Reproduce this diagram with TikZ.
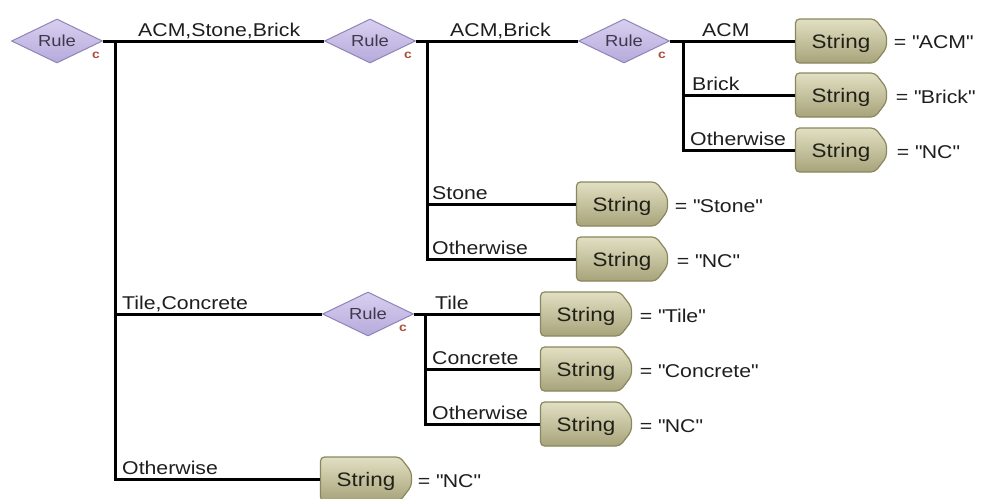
\documentclass[tikz,border=0pt]{standalone}
\usepackage{fontspec}
\setmainfont[FakeStretch=1.15]{Liberation Sans}
\usetikzlibrary{shapes.geometric}

\definecolor{ruletop}{HTML}{D8D0F0}
\definecolor{rulebot}{HTML}{B6AADB}
\definecolor{ruleedge}{HTML}{9084B6}
\definecolor{ruletext}{HTML}{3E3A4C}
\definecolor{tagtop}{HTML}{E2E0C3}
\definecolor{tagbot}{HTML}{A7A37A}
\definecolor{tagedge}{HTML}{8A875E}
\definecolor{tagtextc}{HTML}{202018}
\definecolor{markc}{HTML}{A8503E}
\definecolor{inkc}{HTML}{1E1E1E}

\tikzset{
  rulebox/.style={diamond, aspect=2.3, draw=ruleedge, line width=1pt,
    top color=ruletop, bottom color=rulebot, minimum width=91pt,
    minimum height=44pt, inner sep=0pt, text=ruletext,
    font=\fontsize{16}{17}\selectfont},
  cmark/.style={text=markc, font=\fontsize{12}{13}\selectfont\bfseries, inner sep=0pt},
  tagfill/.style={draw=tagedge, line width=1.2pt, rounded corners=4pt,
    top color=tagtop, bottom color=tagbot},
  tagtext/.style={rectangle, minimum width=91pt, minimum height=44pt,
    inner sep=0pt, text=tagtextc, text depth=0pt, text height=14pt,
    font=\fontsize{19.5}{21}\selectfont},
  wire/.style={draw=black, line width=3pt},
  branch/.style={anchor=base west, inner sep=0pt, text=inkc,
    font=\fontsize{18.5}{20}\selectfont},
  value/.style={anchor=base west, inner sep=0pt, text=inkc,
    font=\fontsize{18.5}{20}\selectfont},
}

% String tag: outline with a chamfered right end, then the named node on top
\newcommand\strtag[3]{%
  \path[tagfill] ({#2-45.5},{#3-22}) -- ({#2+34},{#3-22}) -- ({#2+45.5},{#3-7})
    -- ({#2+45.5},{#3+7}) -- ({#2+34},{#3+22}) -- ({#2-45.5},{#3+22}) -- cycle;
  \node[tagtext] (#1) at (#2,#3) {String};}
\newcommand\qq[1]{=\ \textquotedbl#1\textquotedbl}

\begin{document}
\begin{tikzpicture}[x=1pt, y=-1pt]
\useasboundingbox (0,0) rectangle (981,498);

% rule diamonds
\node[rulebox] (r1) at (57,41) {Rule};
\node[rulebox] (r2) at (370,41) {Rule};
\node[rulebox] (r3) at (624,41) {Rule};
\node[rulebox] (r4) at (368,314) {Rule};
\node[cmark] (c1) at (96,55) {c};
\node[cmark] (c2) at (408,55) {c};
\node[cmark] (c3) at (662,55) {c};
\node[cmark] (c4) at (403,328) {c};

% string tags
\strtag{s1}{841}{41}
\strtag{s2}{841}{95}
\strtag{s3}{841}{150}
\strtag{s4}{622}{204}
\strtag{s5}{622}{259}
\strtag{s6}{586}{314}
\strtag{s7}{586}{369}
\strtag{s8}{586}{424}
\strtag{s9}{366}{479}

% junction points of the branch buses
\coordinate (j1) at (115,41);
\coordinate (j2) at (427,41);
\coordinate (j3) at (683,41);
\coordinate (j4) at (425,314);

% connectors
\draw[wire] (r1.east) -- (r2.west);
\draw[wire] (j1) |- (r4.west);
\draw[wire] (j1) |- (s9.west);
\draw[wire] (r2.east) -- (r3.west);
\draw[wire] (j2) |- (s4.west);
\draw[wire] (j2) |- (s5.west);
\draw[wire] (r3.east) -- (s1.west);
\draw[wire] (j3) |- (s2.west);
\draw[wire] (j3) |- (s3.west);
\draw[wire] (r4.east) -- (s6.west);
\draw[wire] (j4) |- (s7.west);
\draw[wire] (j4) |- (s8.west);

% branch labels
\node[branch] (b1) at (138,36) {ACM,Stone,Brick};
\node[branch] (b2) at (122,309) {Tile,Concrete};
\node[branch] (b3) at (122,474) {Otherwise};
\node[branch] (b4) at (450,36) {ACM,Brick};
\node[branch] (b5) at (432,199) {Stone};
\node[branch] (b6) at (432,254) {Otherwise};
\node[branch] (b7) at (702,36) {ACM};
\node[branch] (b8) at (692,90) {Brick};
\node[branch] (b9) at (690,145) {Otherwise};
\node[branch] (b10) at (435,309) {Tile};
\node[branch] (b11) at (432,364) {Concrete};
\node[branch] (b12) at (432,419) {Otherwise};

% values
\node[value] (v1) at ([xshift=7pt]s1.east |- 0,48) {\qq{ACM}};
\node[value] (v2) at ([xshift=9pt]s2.east |- 0,103) {\qq{Brick}};
\node[value] (v3) at ([xshift=10pt]s3.east |- 0,158) {\qq{NC}};
\node[value] (v4) at ([xshift=7pt]s4.east |- 0,212) {\qq{Stone}};
\node[value] (v5) at ([xshift=9pt]s5.east |- 0,267) {\qq{NC}};
\node[value] (v6) at ([xshift=8pt]s6.east |- 0,322) {\qq{Tile}};
\node[value] (v7) at ([xshift=8pt]s7.east |- 0,377) {\qq{Concrete}};
\node[value] (v8) at ([xshift=8pt]s8.east |- 0,432) {\qq{NC}};
\node[value] (v9) at ([xshift=6pt]s9.east |- 0,487) {\qq{NC}};
\end{tikzpicture}
\end{document}
